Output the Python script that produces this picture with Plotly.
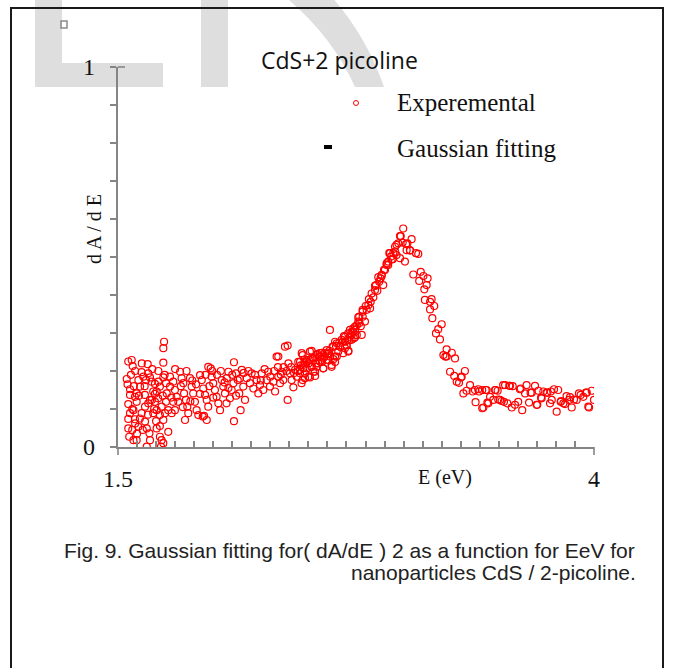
import plotly.graph_objects as go

# ---------------- data (E in eV, dA/dE normalised) ----------------
pts_a = [(1.546,.179),(1.554,.225),(1.572,.229),(1.577,.213),(1.563,.152),(1.554,.113),(1.563,.089),
 (1.554,.074),(1.554,.049),(1.559,.027),(1.581,.018),(1.598,.018),(1.607,.053),(1.589,.073),(1.581,.097),
 (1.598,.119),(1.598,.141),(1.616,.159),(1.607,.176),(1.624,.197),(1.633,.185),(1.647,.176),(1.656,.218),
 (1.659,.194),(1.668,.183),(1.677,.172),(1.685,.146),(1.677,.124),(1.659,.115),(1.642,.106),(1.624,.089),
 (1.642,.067),(1.651,.049),(1.665,.036),(1.668,.018),(1.651,.001),(1.685,.089),(1.703,.097),(1.694,.119),
 (1.703,.146),(1.694,.166),(1.712,.172),(1.720,.159),(1.703,.049),(1.720,.055),(1.720,.027),(1.729,.018),
 (1.726,.001),(1.738,.010),(1.742,.277),(1.738,.260),(1.738,.222),(1.738,.183),(1.752,.168),(1.756,.141),
 (1.752,.119),(1.764,.097),(1.747,.089),(1.764,.040),(1.720,.084),(1.738,.071),
 (1.563,.137),(1.589,.132),(1.641,.137),(1.668,.124),(1.694,.140),(1.711,.128),(1.729,.106),(1.583,.160),
 (1.640,.160),(1.690,.100),(1.615,.075),(1.630,.045),(1.700,.068),(1.657,.085),(1.575,.045),(1.600,.035),
 (1.735,.135),(1.745,.190),(1.712,.200),(1.680,.205),(1.625,.220),(1.568,.190),(1.590,.200),(1.550,.165),
 (1.610,.135),(1.575,.100),(1.590,.062)]

pts_b = [(1.773,.185),(1.790,.172),(1.799,.150),(1.808,.132),(1.817,.119),(1.826,.198),(1.834,.181),
 (1.843,.168),(1.847,.141),(1.857,.124),(1.864,.106),(1.869,.089),(1.852,.071),(1.878,.181),(1.887,.159),
 (1.895,.141),(1.904,.119),(1.913,.097),(1.922,.084),(1.931,.189),(1.940,.176),(1.948,.154),(1.957,.137),
 (1.966,.124),(1.974,.106),(1.952,.082),(1.974,.211),(1.987,.207),(1.992,.185),(2.000,.168),(2.009,.150),
 (2.018,.132),(2.027,.115),(2.036,.097),(2.045,.176),(2.053,.159),(2.062,.141),(2.071,.181),(2.080,.198),
 (2.088,.128),(2.097,.150),(2.106,.168),(2.109,.223),(2.109,.068),(2.120,.194),(2.129,.176),(2.137,.141),
 (2.150,.203),(2.158,.159),(2.167,.124),(2.144,.097),(1.773,.159),(1.790,.119),(1.782,.089),(1.799,.097),
 (1.945,.080),(1.966,.071),(1.800,.205),(1.830,.160),(1.860,.200),(1.890,.175),(1.910,.165),(1.930,.140),
 (1.960,.190),(1.980,.160),(2.000,.130),(2.020,.190),(2.040,.200),(2.060,.170),(2.080,.155),(2.100,.190),
 (2.120,.135),(2.140,.180),(2.160,.195),(1.780,.130),(1.840,.105),(1.880,.120),(1.995,.200),(2.070,.115)]

pts_c = [(2.176,.181),(2.193,.168),(2.202,.194),(2.211,.154),(2.228,.176),(2.237,.141),(2.246,.163),
 (2.255,.194),(2.263,.150),(2.281,.176),(2.289,.198),(2.298,.159),(2.316,.172),(2.325,.146),(2.333,.238),
 (2.342,.185),(2.351,.168),(2.360,.198),(2.368,.176),(2.377,.264),(2.391,.267),(2.391,.124),(2.395,.220),
 (2.403,.194),(2.412,.176),(2.421,.157),(2.430,.203),(2.439,.185),(2.447,.224),(2.456,.203),(2.465,.247),
 (2.473,.216),(2.482,.194),(2.491,.224),(2.500,.185),(2.508,.251),(2.517,.211),(2.526,.233),(2.535,.198),
 (2.543,.242),(2.552,.220),(2.561,.247),(2.570,.229),(2.578,.207),(2.587,.247),(2.596,.255),(2.605,.229),
 (2.613,.308),(2.622,.211),(2.631,.264),(2.640,.238),(2.649,.273),(2.657,.251),(2.666,.264),(2.675,.282),
 (2.683,.247),(2.692,.290),(2.701,.268),(2.710,.251),(2.718,.290),(2.727,.282),(2.736,.303),(2.745,.317),
 (2.754,.295),(2.762,.341),(2.768,.326),
 (2.185,.200),(2.220,.190),(2.250,.175),(2.270,.205),(2.300,.185),(2.320,.200),(2.340,.210),(2.355,.190),
 (2.370,.210),(2.385,.200),(2.410,.210),(2.425,.195),(2.445,.200),(2.460,.215),(2.480,.230),(2.500,.220),
 (2.520,.236),(2.540,.220),(2.560,.225),(2.580,.235),(2.600,.245),(2.342,.238)]

pts_d = [(2.640,.277),(2.662,.274),(2.680,.277),(2.701,.268),(2.692,.260),(2.710,.253),(2.666,.264),
 (2.645,.266),(2.627,.264),(2.610,.253),(2.605,.247),(2.587,.239),(2.570,.248),(2.561,.238),(2.547,.245),
 (2.535,.236),(2.517,.253),(2.508,.229),(2.491,.229),(2.482,.220),(2.470,.242),(2.456,.224),(2.473,.207),
 (2.491,.207),(2.517,.211),(2.526,.198),(2.535,.187),(2.508,.183),(2.482,.181),(2.470,.176),(2.464,.168),
 (2.456,.194),(2.543,.211),(2.578,.207),(2.570,.224),(2.622,.216),(2.640,.224),(2.649,.238),(2.631,.231),
 (2.596,.229),(2.613,.238),(2.785,.356),(2.797,.330),(2.785,.343),(2.767,.343),(2.762,.330),(2.775,.318),
 (2.754,.320),(2.745,.308),(2.736,.312),(2.727,.303),(2.718,.308),(2.709,.299),(2.687,.292),(2.692,.277),
 (2.704,.281),(2.715,.281),(2.780,.295),(2.745,.289),(2.739,.286),(2.727,.295)]

pts_e = [(2.785,.361),(2.801,.371),(2.818,.389),(2.832,.404),(2.850,.424),(2.867,.447),(2.885,.450),
 (2.897,.466),(2.911,.479),(2.919,.488),(2.934,.501),(2.946,.510),(2.955,.527),(2.972,.536),(2.985,.555),
 (2.998,.575),(2.806,.361),(2.824,.365),(2.815,.374),(2.827,.382),(2.841,.394),(2.862,.411),(2.850,.413),
 (2.855,.426),(2.872,.435),(2.893,.426),(2.879,.444),(2.885,.453),(2.902,.466),(2.919,.479),(2.911,.483),
 (2.937,.494),(2.925,.510),(2.943,.494),(2.929,.510),(2.963,.532),(2.955,.514),(2.963,.505),(2.981,.497),
 (2.995,.538),(3.007,.488),(2.981,.555),(3.013,.534),(3.016,.518),(3.020,.536),(3.033,.518),(3.042,.547),
 (3.034,.517)]

pts_f = [(3.051,.454),(3.065,.510),(3.077,.508),(3.082,.437),(3.090,.461),(3.104,.450),(3.109,.415),
 (3.121,.426),(3.126,.444),(3.112,.387),(3.139,.382),(3.147,.389),(3.161,.371),(3.139,.362),(3.151,.339),
 (3.170,.299),(3.182,.310),(3.200,.323),(3.191,.283),(3.209,.242),(3.219,.238),(3.226,.257),(3.226,.238),
 (3.253,.248),(3.270,.233),(3.244,.198),(3.266,.187),(3.279,.172),(3.291,.169),(3.301,.183),(3.305,.185),
 (3.322,.200),(3.314,.141),(3.331,.148),(3.349,.163)]

pts_g = [(3.363,.146),(3.375,.150),(3.378,.118),(3.392,.152),(3.396,.146),(3.413,.150),(3.413,.102),
 (3.419,.104),(3.431,.150),(3.436,.150),(3.440,.117),(3.445,.115),(3.454,.132),(3.471,.124),(3.480,.150),
 (3.483,.150),(3.494,.148),(3.497,.125),(3.506,.124),(3.515,.121),(3.523,.163),(3.527,.119),(3.533,.163),
 (3.545,.115),(3.555,.161),(3.559,.161),(3.568,.104),(3.573,.160),(3.585,.111),(3.602,.119),(3.611,.152),
 (3.615,.154),(3.623,.097),(3.638,.141),(3.646,.163),(3.659,.117),(3.667,.143),(3.673,.143),(3.690,.161),
 (3.699,.111),(3.702,.111),(3.708,.148),(3.722,.130),(3.725,.128),(3.734,.146),(3.751,.143),(3.755,.143),
 (3.769,.115),(3.773,.146),(3.778,.124),(3.790,.152),(3.804,.093),(3.812,.150),(3.825,.119),(3.827,.121),
 (3.839,.115),(3.848,.113),(3.856,.134),(3.869,.124),(3.874,.131),(3.883,.104),(3.895,.125),(3.909,.124),
 (3.921,.141),(3.930,.137),(3.944,.132),(3.958,.143),(3.962,.143),(3.970,.106),(3.974,.104),(3.988,.148),
 (4.000,.124)]

x_ticks = [round(1.5 + 0.1 * i, 1) for i in range(26)]
x_ticktext = ["1.5"] + [""] * 24 + ["4"]
y_ticks = [round(0.1 * i, 1) for i in range(11)]
y_ticktext = ["0"] + [""] * 9 + ["1"]

all_pts = pts_a + pts_b + pts_c + pts_d + pts_e + pts_f + pts_g
energy = [p[0] for p in all_pts]
dade = [p[1] for p in all_pts]

# ---------------- layout geometry (pixels) ----------------
W, H = 675, 668
L, R, T, B = 118, 594, 67, 447


def px(x):
    return (x - L) / (R - L)


def py(y):
    return (B - y) / (B - T)


fig = go.Figure()
fig.add_trace(go.Scatter(
    x=energy, y=dade, mode="markers",
    marker=dict(symbol="circle-open", size=7, color="#ff0000", line=dict(width=1.2, color="#ff0000")),
    name="Experemental", showlegend=False, hoverinfo="x+y"))

axis_gray = "#858585"
serif = "Liberation Serif, Times New Roman, serif"

shapes = []
wm = "#dedede"
# watermark letters (light gray)
for x0, y0, x1, y1 in [(35, -5, 62, 87), (35, 63, 163, 87), (201, -5, 228, 87)]:
    shapes.append(dict(type="rect", xref="paper", yref="paper", x0=px(x0), x1=px(x1), y0=py(y1), y1=py(y0),
                       fillcolor=wm, line=dict(width=0), layer="below"))
path = (f"M {px(283)},{py(-5)} L {px(330)},{py(-5)} Q {px(366)},{py(35)} {px(384)},{py(87)} "
        f"L {px(355)},{py(87)} Q {px(332)},{py(35)} {px(283)},{py(-5)} Z")
shapes.append(dict(type="path", xref="paper", yref="paper", path=path, fillcolor=wm,
                   line=dict(width=0), layer="below"))
# frame
shapes.append(dict(type="rect", xref="paper", yref="paper", x0=px(11), x1=px(663), y0=py(690), y1=py(8),
                   line=dict(color="#1a1a1a", width=2), fillcolor="rgba(0,0,0,0)"))
# small square
shapes.append(dict(type="rect", xref="paper", yref="paper", x0=px(61), x1=px(67), y0=py(28), y1=py(21),
                   line=dict(color="#8a8a8a", width=1.5)))
# end ticks crossing
shapes.append(dict(type="line", xref="paper", yref="paper", x0=px(118), x1=px(125), y0=py(67), y1=py(67),
                   line=dict(color=axis_gray, width=1.6)))
for xe in (118, 594):
    shapes.append(dict(type="line", xref="paper", yref="paper", x0=px(xe), x1=px(xe), y0=py(447), y1=py(455),
                       line=dict(color=axis_gray, width=1.6)))
# legend markers
shapes.append(dict(type="circle", xref="paper", yref="paper", x0=px(353.5), x1=px(358.5), y0=py(105.5),
                   y1=py(100.5), line=dict(color="#ff0000", width=1)))
shapes.append(dict(type="line", xref="paper", yref="paper", x0=px(324), x1=px(332), y0=py(147), y1=py(147),
                   line=dict(color="#000000", width=4)))

ann = []
ann.append(dict(text="CdS+2 picoline", x=px(339), y=py(60), xref="paper", yref="paper",
                xanchor="center", yanchor="middle", showarrow=False,
                font=dict(family="Open Sans, Noto Sans, sans-serif", size=23, color="#111111")))
ann.append(dict(text="Experemental", x=px(395), y=py(103), xref="paper", yref="paper",
                xanchor="left", yanchor="middle", showarrow=False, font=dict(family=serif, size=25, color="#111111")))
ann.append(dict(text="Gaussian fitting", x=px(395), y=py(148), xref="paper", yref="paper",
                xanchor="left", yanchor="middle", showarrow=False, font=dict(family=serif, size=25, color="#111111")))
ann.append(dict(text="E (eV)", x=px(445), y=py(477), xref="paper", yref="paper",
                xanchor="center", yanchor="middle", showarrow=False, font=dict(family=serif, size=20, color="#111111")))
ann.append(dict(text="d A / d E", x=px(94), y=py(229), xref="paper", yref="paper", textangle=-90,
                xanchor="center", yanchor="middle", showarrow=False, font=dict(family=serif, size=20, color="#111111")))
cap_font = dict(family="Liberation Sans, Arial, sans-serif", size=21, color="#222222")
ann.append(dict(text="Fig. 9. Gaussian fitting for( dA/dE ) 2 as a function for EeV for", x=px(62), y=py(550),
                xref="paper", yref="paper", xanchor="left", yanchor="middle", showarrow=False, font=cap_font))
ann.append(dict(text="nanoparticles CdS / 2-picoline.", x=px(638), y=py(572),
                xref="paper", yref="paper", xanchor="right", yanchor="middle", showarrow=False, font=cap_font))

fig.update_layout(
    width=W, height=H,
    margin=dict(l=L, r=W - R, t=T, b=H - B, pad=0),
    paper_bgcolor="white", plot_bgcolor="white",
    showlegend=False,
    shapes=shapes, annotations=ann,
    xaxis=dict(range=[1.5, 4.0], tickmode="array", tickvals=x_ticks, ticktext=x_ticktext,
               ticks="inside", ticklen=6, tickwidth=1.6, tickcolor=axis_gray,
               showline=True, linecolor=axis_gray, linewidth=2.2, showgrid=False, zeroline=False,
               tickfont=dict(family=serif, size=24, color="#111111"), ticklabelstandoff=9,
               fixedrange=True),
    yaxis=dict(range=[0, 1.0], tickmode="array", tickvals=y_ticks, ticktext=y_ticktext,
               ticks="outside", ticklen=6, tickwidth=1.6, tickcolor=axis_gray,
               showline=True, linecolor=axis_gray, linewidth=2.2, showgrid=False, zeroline=False,
               tickfont=dict(family=serif, size=24, color="#111111"), ticklabelstandoff=10,
               fixedrange=True),
)

fig.write_html("out.html")
